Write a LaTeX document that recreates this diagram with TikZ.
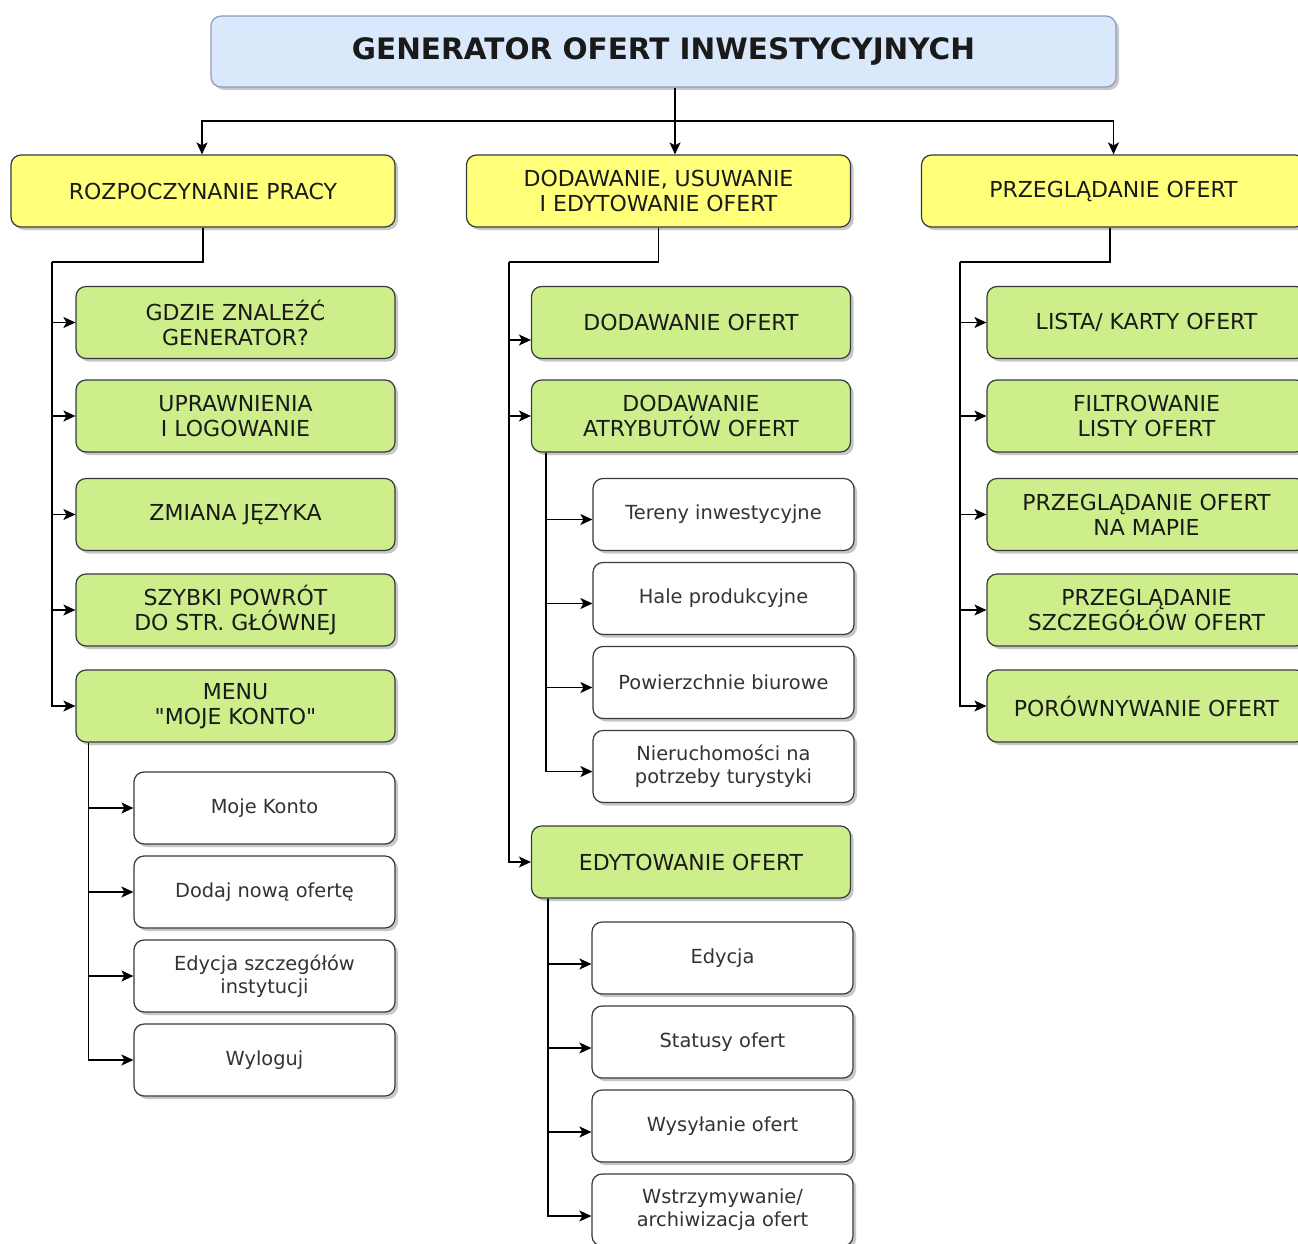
\documentclass[tikz,border=0pt]{standalone}
\usepackage{fontspec}
\setmainfont{DejaVu Sans}[Ligatures=TeXOff]
\usetikzlibrary{arrows.meta,shadows}

\definecolor{niebieski}{HTML}{DAE8FC}
\definecolor{ramkanieb}{HTML}{8A9EBF}
\definecolor{zolty}{HTML}{FFFF7A}
\definecolor{zielony}{HTML}{CDEE8B}
\definecolor{ramka}{HTML}{36393D}
\definecolor{tekst}{HTML}{1A1A1A}

\tikzset{
  pudlo/.style={rounded corners=10pt, line width=1.2pt, draw=ramka, align=center,
    text=tekst, inner sep=0pt, minimum height=72pt,
    drop shadow={shadow xshift=3pt, shadow yshift=-3pt, fill=black!22, opacity=1}},
  tytul/.style={pudlo, fill=niebieski, draw=ramkanieb, minimum width=905pt,
    minimum height=71pt, font=\fontsize{29.5}{33}\selectfont\bfseries},
  glowny/.style={pudlo, fill=zolty, minimum width=384pt, font=\fontsize{22}{25}\selectfont},
  zadanie/.style={pudlo, fill=zielony, minimum width=319pt, font=\fontsize{22}{25}\selectfont},
  opcja/.style={pudlo, fill=white, minimum width=261pt, text=black!80,
    font=\fontsize{19.4}{23}\selectfont},
  pil/.style={line width=1.3pt, -{Stealth[length=12pt,width=11pt,inset=3pt]}}
}

\begin{document}
\begin{tikzpicture}[x=1pt,y=-1pt]
\clip (0,0) rectangle (1298,1244);
\fill[white] (0,0) rectangle (1298,1244);

% naglowek
\node[tytul] (tyt) at (663.5,51.5) {GENERATOR OFERT INWESTYCYJNYCH};

\node[glowny] (gl1) at (203,191) {ROZPOCZYNANIE PRACY};
\node[glowny] (gl2) at (658.5,191) {DODAWANIE, USUWANIE\\I EDYTOWANIE OFERT};
\node[glowny] (gl3) at (1113.5,191) {PRZEGLĄDANIE OFERT};

% kolumna 1
\node[zadanie] (z11) at (235.5,322.5) {GDZIE ZNALEŹĆ\\GENERATOR?};
\node[zadanie] (z12) at (235.5,416) {UPRAWNIENIA\\I LOGOWANIE};
\node[zadanie] (z13) at (235.5,514.5) {ZMIANA JĘZYKA};
\node[zadanie] (z14) at (235.5,610) {SZYBKI POWRÓT\\DO STR. GŁÓWNEJ};
\node[zadanie] (z15) at (235.5,706) {MENU\\"MOJE KONTO"};

\node[opcja] (o11) at (264.5,808) {Moje Konto};
\node[opcja] (o12) at (264.5,892) {Dodaj nową ofertę};
\node[opcja] (o13) at (264.5,976) {Edycja szczegółów\\instytucji};
\node[opcja] (o14) at (264.5,1060) {Wyloguj};

% kolumna 2
\node[zadanie] (z21) at (691,322.5) {DODAWANIE OFERT};
\node[zadanie] (z22) at (691,416) {DODAWANIE\\ATRYBUTÓW OFERT};
\node[zadanie] (z23) at (691,862) {EDYTOWANIE OFERT};

\node[opcja] (o21) at (723.5,514.5) {Tereny inwestycyjne};
\node[opcja] (o22) at (723.5,598.5) {Hale produkcyjne};
\node[opcja] (o23) at (723.5,682.5) {Powierzchnie biurowe};
\node[opcja] (o24) at (723.5,766.5) {Nieruchomości na\\potrzeby turystyki};

\node[opcja] (o25) at (722.5,958) {Edycja};
\node[opcja] (o26) at (722.5,1042) {Statusy ofert};
\node[opcja] (o27) at (722.5,1126) {Wysyłanie ofert};
\node[opcja] (o28) at (722.5,1210) {Wstrzymywanie/\\archiwizacja ofert};

% kolumna 3
\node[zadanie] (z31) at (1146.5,322.5) {LISTA/ KARTY OFERT};
\node[zadanie] (z32) at (1146.5,416) {FILTROWANIE\\LISTY OFERT};
\node[zadanie] (z33) at (1146.5,514.5) {PRZEGLĄDANIE OFERT\\NA MAPIE};
\node[zadanie] (z34) at (1146.5,610) {PRZEGLĄDANIE\\SZCZEGÓŁÓW OFERT};
\node[zadanie] (z35) at (1146.5,706) {PORÓWNYWANIE OFERT};

% polaczenia
\coordinate (rozdz) at (675,121);
\draw[pil] ([xshift=11.5pt]tyt.south) -- ([xshift=16.5pt]gl2.north);
\draw[pil] (rozdz) -| ([xshift=-1pt]gl1.north);
\draw[pil] (rozdz) -| (gl3.north);

\coordinate (lin1) at (52,262);
\draw[line width=1.3pt] (gl1.south) |- (lin1);
\foreach \n in {z11,z12,z13,z14,z15}
  \draw[pil] (lin1) |- (\n.west);

\coordinate (lin2) at (509,262);
\draw[line width=1.3pt] (gl2.south) |- (lin2);
\draw[pil] (lin2) |- ([yshift=-17.5pt]z21.west);
\draw[pil] (lin2) |- (z22.west);
\draw[pil] (lin2) |- (z23.west);

\coordinate (lin3) at ([xshift=15pt]z22.south west);
\foreach \n in {o21,o22,o23,o24}
  \draw[pil] (lin3) |- ([yshift=-5pt]\n.west);

\coordinate (lin4) at ([xshift=17pt]z23.south west);
\foreach \n in {o25,o26,o27,o28}
  \draw[pil] (lin4) |- ([yshift=-6pt]\n.west);

\coordinate (lin5) at ([xshift=13pt]z15.south west);
\foreach \n in {o11,o12,o13,o14}
  \draw[pil] (lin5) |- (\n.west);

\coordinate (lin6) at (960,262);
\draw[line width=1.3pt] ([xshift=-3.5pt]gl3.south) |- (lin6);
\foreach \n in {z31,z32,z33,z34,z35}
  \draw[pil] (lin6) |- (\n.west);

\end{tikzpicture}
\end{document}
